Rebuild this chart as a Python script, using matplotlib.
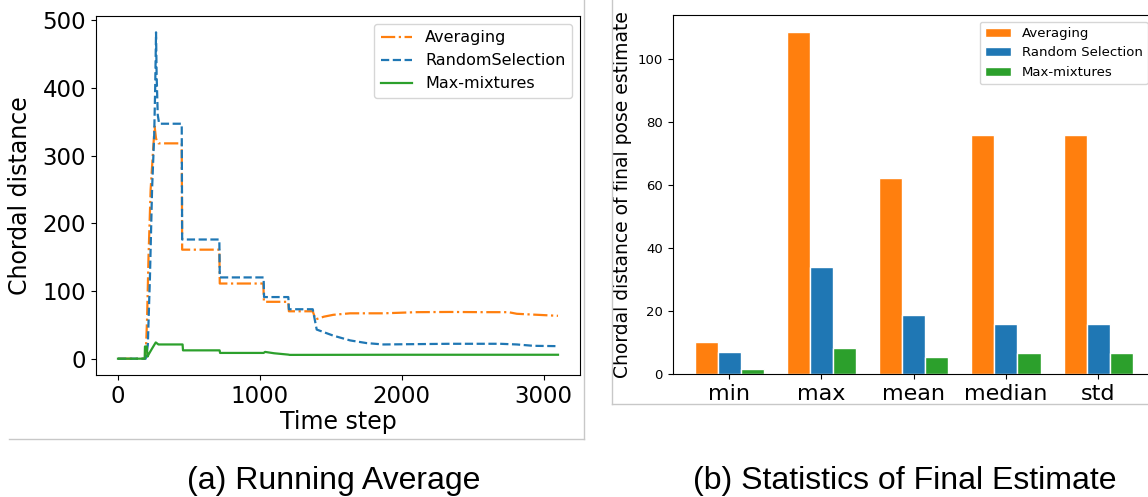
import numpy as np
import matplotlib
matplotlib.use("Agg")
import matplotlib.pyplot as plt
from matplotlib.lines import Line2D

# running average curves
avg_steps = [0, 190, 198, 205, 215, 230, 245, 258, 268, 285, 449, 452, 714, 717,
             1024, 1028, 1200, 1204, 1372, 1392, 1450, 1517, 1635, 1870, 2105,
             2340, 2575, 2751, 2810, 3100]
avg_dist = [0, 0, 20, 60, 150, 250, 300, 343, 325, 318, 318, 161, 161, 111,
            111, 84, 84, 70, 70, 58, 62, 64.8, 67, 67, 68.7,
            69, 68.7, 68.7, 66.3, 63.3]

rand_steps = [0, 195, 210, 225, 240, 255, 262, 268, 272, 280, 290, 449, 452, 714, 717,
              1026, 1029, 1200, 1204, 1372, 1400, 1517, 1635, 1752, 1870, 2105,
              2340, 2692, 2810, 2927, 3100]
rand_dist = [0, 0, 20, 120, 250, 330, 400, 482, 420, 360, 347, 347, 176, 176, 120,
             120, 91, 91, 73, 73, 43, 34, 27, 23, 21, 21.5,
             22, 22, 21, 19, 18.5]

mm_steps = [0, 188, 190, 203, 208, 215, 240, 266, 285, 455, 458, 716, 719,
            1026, 1036, 1100, 1200, 1210, 2000, 3100]
mm_dist = [0, 0, 18, 18, 3, 6, 15, 24, 21, 21, 12.3, 12.3, 8.5,
           8.5, 10, 8, 6, 5.6, 5.8, 5.8]

# final estimate statistics
stats = ["min", "max", "mean", "median", "std"]
final_avg = [10.3, 108.7, 62.4, 75.9, 75.9]
final_rand = [6.9, 34.0, 18.6, 15.9, 15.9]
final_mm = [1.5, 8.3, 5.4, 6.7, 6.7]

W, H = 1148, 497
fig = plt.figure(figsize=(W / 100, H / 100), dpi=100)
plt.rcParams["font.family"] = "DejaVu Sans"

orange, blue, green = "#ff7f0e", "#1f77b4", "#2ca02c"

# (a) running average
ax1 = fig.add_axes([96 / W, (H - 375) / H, (580 - 96) / W, (375 - 16) / H])
ax1.plot(avg_steps, avg_dist, "-.", color=orange, lw=1.6, label="Averaging")
ax1.plot(rand_steps, rand_dist, "--", color=blue, lw=1.6, label="RandomSelection")
ax1.plot(mm_steps, mm_dist, "-", color=green, lw=1.6, label="Max-mixtures")
ax1.set_yticks([0, 100, 200, 300, 400, 500])
ax1.set_xticks([0, 1000, 2000, 3000])
ax1.tick_params(labelsize=16.5)
ax1.set_xlabel("Time step", fontsize=17, labelpad=2)
ax1.set_ylabel("Chordal distance", fontsize=17, labelpad=8)
ax1.legend(loc="upper right", fontsize=11.5)

# (b) statistics of final estimate
ax2 = fig.add_axes([672.7 / W, (H - 374) / H, 482 / W, (374 - 15) / H])
x = np.arange(len(stats))
w = 0.25
ax2.bar(x - w, final_avg, w, color=orange, edgecolor="white", lw=1, label="Averaging")
ax2.bar(x, final_rand, w, color=blue, edgecolor="white", lw=1, label="Random Selection")
ax2.bar(x + w, final_mm, w, color=green, edgecolor="white", lw=1, label="Max-mixtures")
ax2.set_xticks(x)
ax2.set_xticklabels(stats, fontsize=16)
ax2.tick_params(axis="y", labelsize=9.5)
ax2.set_ylabel("Chordal distance of final pose estimate", fontsize=13.5)
ax2.legend(loc="upper right", fontsize=9.5)

# sub-figure frames
frame = "#c8c8c8"
def fig_line(xs, ys):
    fig.add_artist(Line2D([v / W for v in xs], [1 - v / H for v in ys],
                          transform=fig.transFigure, color=frame, lw=1))

fig_line([583.5, 583.5], [0, 439.3])
fig_line([8.8, 583.5], [439.3, 439.3])
fig_line([611.5, 611.5], [0, 404])
fig_line([611.5, W], [404, 404])

fig.text(333.5 / W, 8 / H, "(a) Running Average", ha="center", va="baseline",
         fontsize=23, family="Liberation Sans")
fig.text(905 / W, 8 / H, "(b) Statistics of Final Estimate", ha="center",
         va="baseline", fontsize=23, family="Liberation Sans")

fig.savefig("out.png", dpi=100)
